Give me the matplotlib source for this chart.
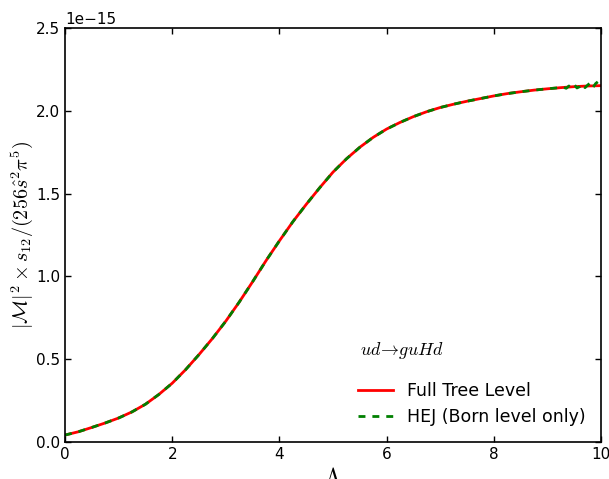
import numpy as np
import matplotlib
matplotlib.use("Agg")
import matplotlib.pyplot as plt

# matrix element vs Lambda (units of 1e-15)
lam = [0.0, 0.25, 0.5, 0.75, 1.0, 1.25, 1.5, 1.75, 2.0, 2.25, 2.5, 2.75,
       3.0, 3.25, 3.5, 3.75, 4.0, 4.25, 4.5, 4.75, 5.0, 5.25, 5.5, 5.75,
       6.0, 6.25, 6.5, 6.75, 7.0, 7.25, 7.5, 7.75, 8.0, 8.25, 8.5, 8.75,
       9.0, 9.25, 9.5, 9.75, 10.0]
full_tree = [0.042, 0.062, 0.088, 0.115, 0.145, 0.182, 0.228, 0.287, 0.355,
             0.437, 0.528, 0.625, 0.730, 0.845, 0.968, 1.095, 1.215, 1.330,
             1.435, 1.535, 1.630, 1.710, 1.780, 1.840, 1.890, 1.930, 1.965,
             1.995, 2.020, 2.040, 2.058, 2.074, 2.090, 2.104, 2.115, 2.125,
             2.133, 2.140, 2.146, 2.150, 2.152]

# HEJ agrees everywhere, with some Monte Carlo noise at large Lambda
hej_lam = lam[:37] + [9.3, 9.35, 9.4, 9.45, 9.5, 9.55, 9.6, 9.65, 9.7,
                      9.75, 9.8, 9.85, 9.9, 9.95, 10.0]
hej = full_tree[:37] + [2.142, 2.136, 2.150, 2.140, 2.158, 2.138, 2.146,
                        2.162, 2.140, 2.155, 2.170, 2.142, 2.165, 2.178,
                        2.160]

plt.rcParams['mathtext.fontset'] = 'cm'
plt.rcParams['xtick.direction'] = 'in'
plt.rcParams['ytick.direction'] = 'in'
plt.rcParams['xtick.top'] = True
plt.rcParams['ytick.right'] = True

fig = plt.figure(figsize=(6.09, 4.79), dpi=100)
ax = fig.add_axes([0.1067, 0.0772, 0.8803, 0.8643])

ax.plot(lam, np.array(full_tree) * 1e-15, color='red', lw=2,
        label='Full Tree Level')
ax.plot(hej_lam, np.array(hej) * 1e-15, color='green', lw=2,
        dashes=(2.5, 2.5), label='HEJ (Born level only)')

ax.set_xlim(0, 10)
ax.set_ylim(0, 2.5e-15)
ax.set_xticks([0, 2, 4, 6, 8, 10])
ax.set_yticks(np.arange(0, 2.51, 0.5) * 1e-15)
ax.tick_params(labelsize=11, length=4, width=1)
ax.yaxis.get_offset_text().set_fontsize(11)
for s in ax.spines.values():
    s.set_linewidth(1.2)

ax.set_xlabel(r'$\Lambda$', fontsize=17, labelpad=3)
ax.set_ylabel(r'$|\mathcal{M}|^2 \times s_{12}/(256\hat{s}^2\pi^5)$',
              fontsize=14.5, labelpad=1)
ax.text(5.5, 0.525e-15, r'$ud\!\rightarrow\! guHd$', fontsize=13)

ax.legend(loc='lower right', frameon=False, fontsize=12.5,
          handlelength=2, bbox_to_anchor=(1.0, 0.0))

fig.savefig('out.png', dpi=100)
